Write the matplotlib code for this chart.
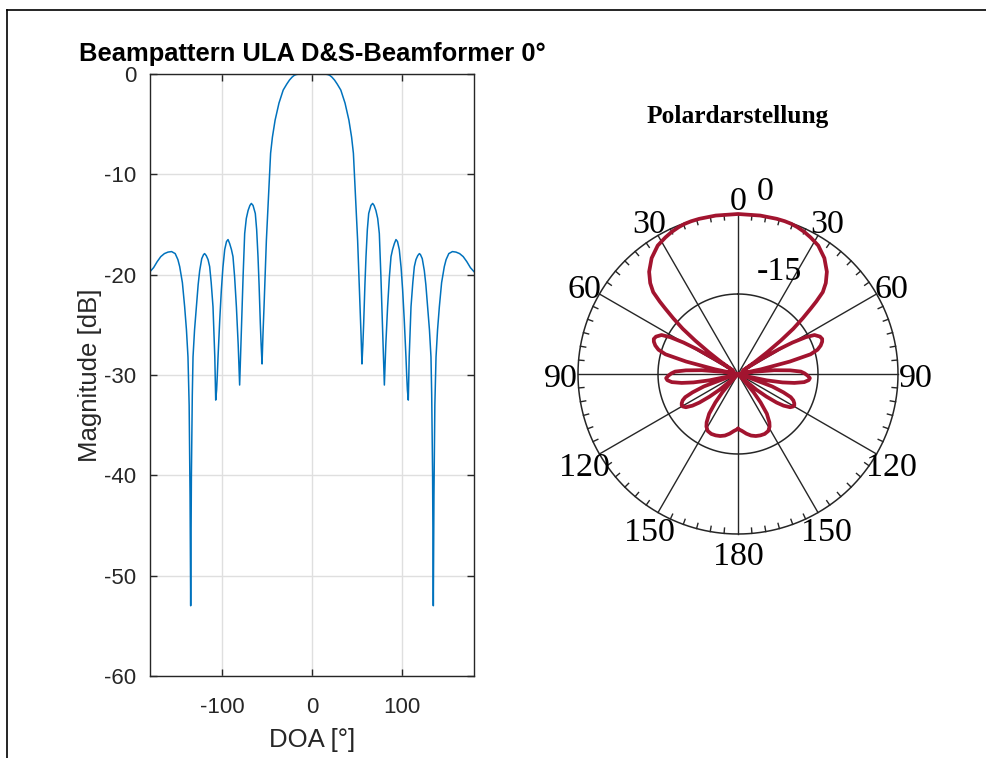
import numpy as np
import matplotlib
matplotlib.use("Agg")
import matplotlib.pyplot as plt
from matplotlib.lines import Line2D

plt.rcParams["axes.unicode_minus"] = False

# ---- data (DOA in degrees, magnitude in dB) ----
doa = [-180, -176, -172, -168, -164, -160, -156, -152, -149, -147, -144, -141.5, -139.5, -137.8,
       -136.5, -135.5, -134.8, -134, -133, -132.2, -130.5, -128.5, -126.5, -124.8, -122.5, -120.5,
       -119.3, -117.5, -115.5, -113.7, -112, -110, -108, -107, -106, -105.2, -104.4, -102.5, -100.7,
       -99, -97, -95, -93.3, -91.5, -89.5, -87.8, -86, -84, -82, -80.4, -79.5, -78.5, -76.5, -74.8,
       -73, -71, -69, -67.4, -65.5, -63, -61.5, -60, -58.8, -57.4, -56.5, -55.5, -54.5, -53.3, -52,
       -50.7, -49.3, -48, -47.2, -46, -44, -41, -36.7, -32, -28, -25, -22, -19.5, -17, -14, -8, 0,
       8, 14, 17, 19.5, 22, 25, 28, 32, 36.7, 41, 44, 46, 47.2, 48, 49.3, 50.7, 52, 53.3, 54.5, 55.5,
       56.5, 57.4, 58.8, 60, 61.5, 63, 65.5, 67.4, 69, 71, 73, 74.8, 76.5, 78.5, 79.5, 80.4, 82, 84,
       86, 87.8, 89.5, 91.5, 93.3, 95, 97, 99, 100.7, 102.5, 104.4, 105.2, 106, 107, 108, 110, 112,
       113.7, 115.5, 117.5, 119.3, 120.5, 122.5, 124.8, 126.5, 128.5, 130.5, 132.2, 133, 134, 134.8,
       135.5, 136.5, 137.8, 139.5, 141.5, 144, 147, 149, 152, 156, 160, 164, 168, 172, 176, 180]
mag_db = [-19.7, -19.3, -18.7, -18.2, -17.9, -17.75, -17.7, -17.9, -18.5, -19.2, -20.8, -23.2, -25.5, -28.2,
          -33.0, -42.0, -53.0, -40.0, -32.0, -28.2, -25.5, -23.2, -21.0, -19.6, -18.4, -18.0,
          -17.9, -18.1, -18.5, -19.2, -20.8, -23.2, -28.2, -32.5, -31.5, -30.0, -28.2, -24.5, -21.5,
          -19.3, -17.5, -16.7, -16.5, -16.9, -17.5, -18.2, -20.2, -23.2, -27.0, -31.0, -28.5, -25.6, -20.0, -15.9,
          -14.4, -13.6, -13.1, -12.9, -13.1, -13.9, -15.5, -18.2, -21.0, -24.9, -27.0, -28.9, -26.0, -23.2, -19.8,
          -16.6, -14.0, -11.6, -10.0, -7.9, -6.3, -4.6, -2.9, -1.6, -1.0, -0.6, -0.3, -0.12, -0.04, -0.01, 0.0, 0.0,
          0.0, -0.01, -0.04, -0.12, -0.3, -0.6, -1.0, -1.6, -2.9, -4.6, -6.3, -7.9, -10.0, -11.6, -14.0, -16.6, -19.8, -23.2, -26.0, -28.9,
          -27.0, -24.9, -21.0, -18.2, -15.5, -13.9, -13.1, -12.9, -13.1, -13.6, -14.4, -15.9, -20.0, -25.6, -28.5, -31.0, -27.0, -23.2,
          -20.2, -18.2, -17.5, -16.9, -16.5, -16.7, -17.5, -19.3, -21.5, -24.5, -28.2, -30.0, -31.5, -32.5, -28.2, -23.2, -20.8,
          -19.2, -18.5, -18.1, -17.9, -18.0, -18.4, -19.6, -21.0, -23.2, -25.5, -28.2, -32.0, -40.0, -53.0,
          -42.0, -33.0, -28.2, -25.5, -23.2, -20.8, -19.2, -18.5, -17.9, -17.7, -17.75, -17.9, -18.2, -18.7, -19.3, -19.7]

x_ticks = [-100, 0, 100]
y_ticks = [-60, -50, -40, -30, -20, -10, 0]
polar_angle_ticks = [0, 30, 60, 90, 120, 150, 180, 210, 240, 270, 300, 330]
polar_angle_labels = ["0", "30", "60", "90", "120", "150", "180", "150", "120", "90", "60", "30"]
polar_r_ticks = [-15, 0]
polar_r_labels = ["-15", "0"]

W, H = 987, 758
fig = plt.figure(figsize=(W / 100, H / 100), dpi=100)

# frame lines (top and left)
fig.add_artist(Line2D([7 / W, 1.0], [1 - 10 / H, 1 - 10 / H], transform=fig.transFigure, color="black", lw=1.2))
fig.add_artist(Line2D([7 / W, 7 / W], [0, 1 - 10 / H], transform=fig.transFigure, color="black", lw=1.2))

sans = ["Liberation Sans", "DejaVu Sans"]
serif = ["Liberation Serif", "DejaVu Serif"]

# ---------------- left: cartesian beampattern ----------------
ax = fig.add_axes([150 / W, (H - 676) / H, 324 / W, 602 / H])
ax.plot(doa, mag_db, color="#0072BD", lw=1.1)
ax.set_xlim(-180, 180)
ax.set_ylim(-60, 0)
ax.set_xticks(x_ticks)
ax.set_yticks(y_ticks)
ax.grid(True, color="#DFDFDF", lw=1.0)
ax.set_axisbelow(True)
for s in ax.spines.values():
    s.set_color("#262626")
    s.set_linewidth(1.0)
ax.tick_params(direction="in", length=5, width=1, colors="#262626", top=True, right=True,
               labelsize=16)
ax.tick_params(axis="x", pad=15)
ax.tick_params(axis="y", pad=10)
for lab in ax.get_xticklabels() + ax.get_yticklabels():
    lab.set_family(sans)
ax.set_xlabel("DOA [°]", fontsize=18.5, family=sans, color="#262626", labelpad=7)
ax.set_ylabel("Magnitude [dB]", fontsize=18.5, family=sans, color="#262626", labelpad=1)
ax.set_title("Beampattern ULA D&S-Beamformer 0°", fontsize=18.4, fontweight="bold", family=sans, pad=9)

# ---------------- right: polar plot ----------------
R = 160
cx, cy = 738, 374
pax = fig.add_axes([(cx - R) / W, (H - cy - R) / H, 2 * R / W, 2 * R / H], projection="polar")
pax.set_theta_zero_location("N")
pax.set_theta_direction(-1)
pax.set_ylim(-30, 0)
pax.grid(False)
pax.spines["polar"].set_visible(False)
pax.set_xticks([])
pax.set_yticks([])
pax.patch.set_alpha(0)

th = np.linspace(0, 2 * np.pi, 721)
pax.plot(th, np.full_like(th, 0.0), color="#262626", lw=1.1, clip_on=False)
pax.plot(th, np.full_like(th, -15.0), color="#262626", lw=1.1, clip_on=False)
for a in polar_angle_ticks:
    pax.plot([np.deg2rad(a)] * 2, [-30, 0], color="#262626", lw=1.0, clip_on=False)
for a in range(0, 360, 5):
    if a % 30:
        pax.plot([np.deg2rad(a)] * 2, [-1.0, 0], color="#262626", lw=1.0, clip_on=False)

pax.plot(np.deg2rad(doa), np.clip(mag_db, -30, 0), color="#A2142F", lw=2.7, clip_on=False)

for a, lab in zip(polar_angle_ticks, polar_angle_labels):
    pax.annotate(lab, xy=(np.deg2rad(a), 3.3), xytext=(0, -5), textcoords="offset pixels",
                 ha="center", va="center", fontsize=24.5, family=serif, annotation_clip=False)
for r, lab in zip(polar_r_ticks, polar_r_labels):
    pax.annotate(lab, xy=(0, r), xytext=(19, 22), textcoords="offset pixels", ha="left", va="center",
                 fontsize=24.5, family=serif, annotation_clip=False)

fig.text(cx / W, 1 - 117 / H, "Polardarstellung", ha="center", va="center", fontsize=18.3,
         fontweight="bold", family=serif)

fig.savefig("out.png", dpi=100)
